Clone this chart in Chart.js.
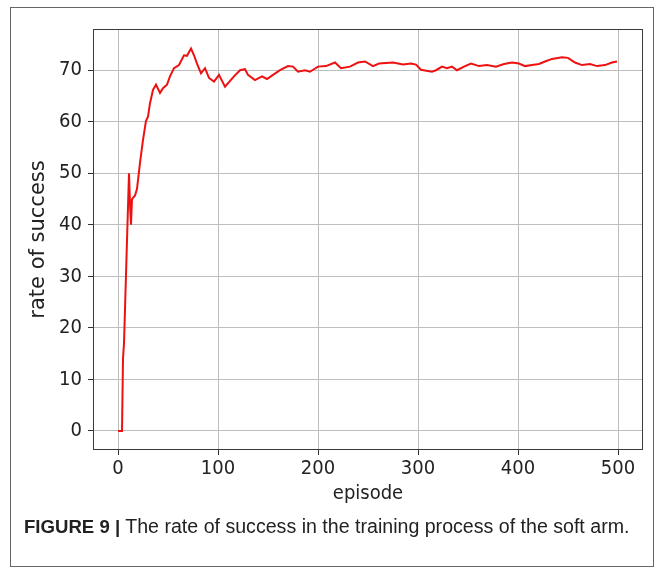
<!DOCTYPE html>
<html>
<head>
<meta charset="utf-8">
<script src="https://cdn.jsdelivr.net/npm/chart.js@4/dist/chart.umd.min.js"></script>
<style>
    html, body { margin: 0; padding: 0; background: #fff; }
    #page { position: relative; width: 664px; height: 583px; overflow: hidden; }
    #frame {
        position: absolute; left: 10px; top: 7px; width: 644px; height: 560px;
        border: 1px solid #666; box-sizing: border-box;
    }
    #chart { position: absolute; left: 0; top: 0; }
    #caption {
        position: absolute; left: 24px; top: 515px; white-space: nowrap;
        font-family: "Liberation Sans", Arial, sans-serif; font-size: 19.6px; color: #222;
    }
    #caption b { font-weight: bold; font-size: 18.6px; }
</style>
</head>
<body>
<div id="page">
    <div id="frame"></div>
    <canvas id="chart" width="664" height="583"></canvas>
    <div id="caption"><b>FIGURE 9 |</b> The rate of success in the training process of the soft arm.</div>
</div>
<script>
// Values
const episodes = [0, 4, 5, 6, 9, 11, 12, 13, 14, 17, 19, 22, 25, 28, 30, 32, 35, 38, 42, 45,
    49, 52, 56, 61, 66, 69, 73, 76, 79, 83, 87, 91, 96, 101, 107, 116, 122, 127, 130, 137,
    144, 149, 155, 162, 170, 175, 180, 187, 192, 200, 208, 217, 223, 232, 240, 247, 255, 261, 275, 285,
    293, 298, 303, 314, 318, 324, 329, 334, 339, 346, 353, 361, 369, 378, 386, 394, 401, 407, 414, 421,
    427, 434, 444, 450, 457, 464, 472, 479, 487, 494, 499];
const successRate = [0, 0, 14, 17, 37, 50, 44, 40, 45, 45.7, 47, 52, 56.5, 60.2, 61, 63.6, 66.2, 67.2, 65.6, 66.5,
    67.2, 68.8, 70.4, 71, 72.9, 72.8, 74.2, 72.9, 71.3, 69.4, 70.4, 68.5, 67.8, 69.1, 66.8, 68.8, 70, 70.2, 69.1, 68.1,
    68.8, 68.3, 69.1, 70.0, 70.8, 70.7, 69.7, 70.0, 69.7, 70.7, 70.8, 71.5, 70.4, 70.7, 71.5, 71.7, 70.8, 71.3, 71.5, 71.1,
    71.3, 71.1, 70.1, 69.7, 70.0, 70.7, 70.4, 70.7, 70.0, 70.7, 71.3, 70.8, 71.0, 70.7, 71.2, 71.5, 71.3, 70.8, 71.0, 71.2,
    71.7, 72.2, 72.5, 72.4, 71.5, 71.0, 71.2, 70.8, 71.0, 71.5, 71.7];
const xTicks = [0, 100, 200, 300, 400, 500];
const yTicks = [0, 10, 20, 30, 40, 50, 60, 70];

const tickFont = { family: '"DejaVu Sans Condensed", "Open Sans", sans-serif', size: 20 };

// Box round the plot area (matplotlib spines)
const spines = {
    id: 'spines',
    afterDraw(chart) {
        const { ctx, chartArea: a } = chart;
        ctx.save();
        ctx.strokeStyle = '#3a3a3a';
        ctx.lineWidth = 1;
        ctx.strokeRect(a.left + 0.5, a.top + 0.5, a.right - a.left - 1, a.bottom - a.top - 1);
        ctx.restore();
    }
};

const ctx = document.getElementById('chart').getContext('2d');
new Chart(ctx, {
    type: 'line',
    data: {
        datasets: [{
            data: episodes.map((e, i) => ({ x: e, y: successRate[i] })),
            borderColor: '#ee1111',
            borderWidth: 2,
            pointRadius: 0,
            tension: 0,
            fill: false
        }]
    },
    options: {
        responsive: false,
        animation: false,
        layout: { padding: { top: 29, right: 21, bottom: 73, left: 0 } },
        plugins: { legend: { display: false }, tooltip: { enabled: false } },
        scales: {
            x: {
                type: 'linear',
                min: -25,
                max: 525,
                afterBuildTicks: s => { s.ticks = xTicks.map(v => ({ value: v })); },
                afterFit: s => { s.height = 60; },
                grid: { color: '#bdbdbd', tickColor: '#333', tickLength: 5 },
                border: { display: false },
                ticks: { color: '#222', font: tickFont, padding: 2, maxRotation: 0 },
                title: { display: true, text: 'episode', color: '#222', font: tickFont, padding: { top: 0, bottom: 4 } }
            },
            y: {
                min: -3.7,
                max: 78,
                afterBuildTicks: s => { s.ticks = yTicks.map(v => ({ value: v })); },
                afterFit: s => { s.width = 93; },
                grid: { color: '#bdbdbd', tickColor: '#333', tickLength: 5 },
                border: { display: false },
                ticks: { color: '#222', font: tickFont, padding: 6 },
                title: {
                    display: true, text: 'rate of success', color: '#222',
                    font: { family: '"DejaVu Sans", sans-serif', size: 21 },
                    padding: { top: 26, bottom: 0 }
                }
            }
        }
    },
    plugins: [spines]
});
</script>
</body>
</html>
